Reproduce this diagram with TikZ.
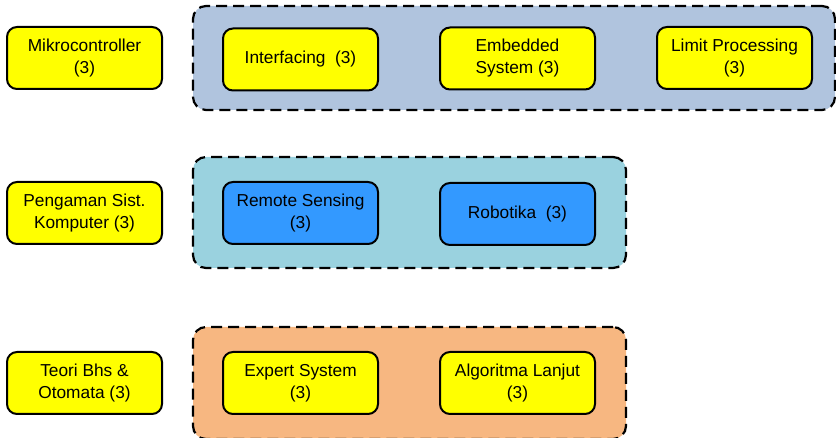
\documentclass[tikz,border=0pt]{standalone}
\usepackage{fontspec}
\setmainfont{Liberation Sans}
\definecolor{ybox}{HTML}{FFFF00}
\definecolor{bbox}{HTML}{3399FF}
\definecolor{grpA}{HTML}{B0C4DE}
\definecolor{grpB}{HTML}{9AD2DF}
\definecolor{grpC}{HTML}{F7B781}
\tikzset{
  course/.style={draw=black, line width=2pt, rounded corners=10pt, align=center,
    minimum width=155pt, minimum height=62pt, inner sep=0pt,
    font=\fontsize{17.3}{22}\selectfont},
  yellowbox/.style={course, fill=ybox},
  bluebox/.style={course, fill=bbox},
  group/.style={draw=black, line width=2.2pt, dash pattern=on 11pt off 6pt,
    rounded corners=13pt, inner sep=0pt}
}
\begin{document}
\begin{tikzpicture}[x=1pt,y=-1pt]
\useasboundingbox (0,0) rectangle (836,438);
\clip (0,0) rectangle (836,438);
% groups
\node[group, fill=grpA, minimum width=642pt, minimum height=104pt] (gA) at (514,58) {};
\node[group, fill=grpB, minimum width=433pt, minimum height=111pt] (gB) at (409.5,212.5) {};
\node[group, fill=grpC, minimum width=433pt, minimum height=112pt] (gC) at (409.5,383) {};
% row 1
\node[yellowbox] (mik) at (84.5,58) {Mikrocontroller\\(3)};
\node[yellowbox] (intf) at (300.5,59.5) {Interfacing\ \ (3)};
\node[yellowbox] (emb) at (517.5,58.5) {Embedded\\System (3)};
\node[yellowbox] (lim) at (734.5,58) {Limit Processing\\(3)};
% row 2
\node[yellowbox] (peng) at (84.5,213) {Pengaman Sist.\\Komputer (3)};
\node[bluebox] (rem) at (300.5,213) {Remote Sensing\\(3)};
\node[bluebox] (rob) at (517.5,214) {Robotika\ \ (3)};
% row 3
\node[yellowbox] (teo) at (84.5,383) {Teori Bhs \&\\Otomata (3)};
\node[yellowbox] (exp) at (300.5,383) {Expert System\\(3)};
\node[yellowbox] (alg) at (517.5,383) {Algoritma Lanjut\\(3)};
\end{tikzpicture}
\end{document}
